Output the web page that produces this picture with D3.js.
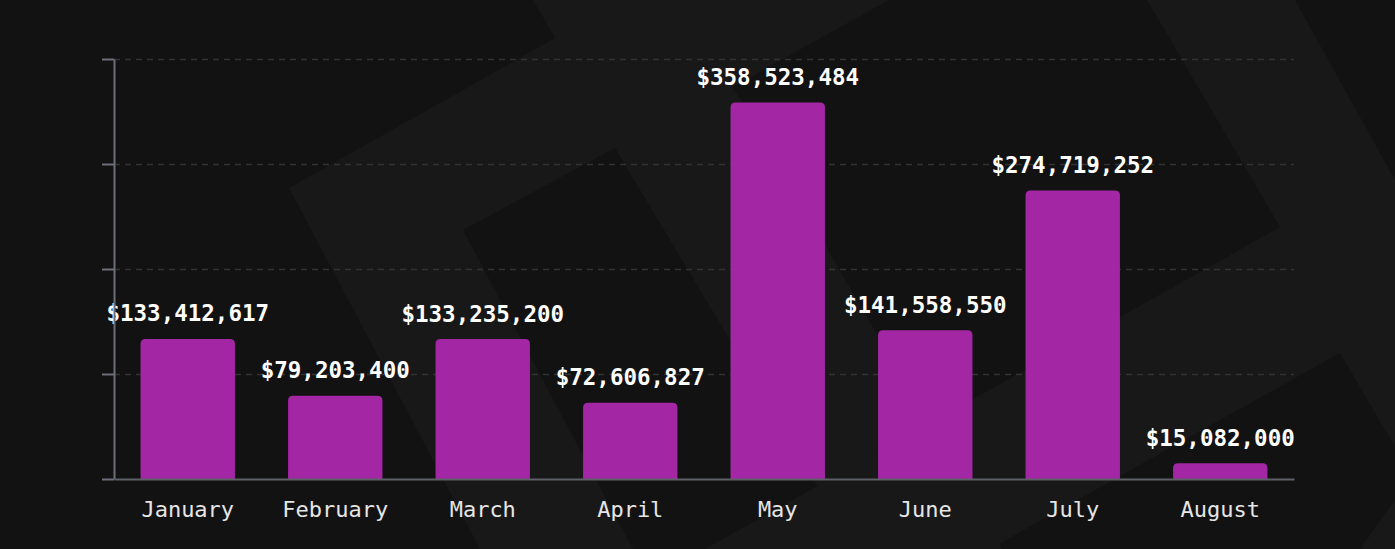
<!DOCTYPE html>
<html>
<head>
<meta charset="utf-8">
<script src="https://cdn.jsdelivr.net/npm/d3@7"></script>
<style>
  html, body { margin: 0; padding: 0; background: #121212; }
  svg { display: block; }
</style>
</head>
<body>
<svg id="chart" width="1395" height="549"></svg>
<script>
const months = ["January", "February", "March", "April", "May", "June", "July", "August"];
const revenue = [133412617, 79203400, 133235200, 72606827, 358523484, 141558550, 274719252, 15082000];
const yTicks = [0, 100000000, 200000000, 300000000, 400000000];

const W = 1395, H = 549;
const margin = { left: 114, right: 101, top: 59, bottom: 70 };
const svg = d3.select("#chart");

// background
svg.append("rect").attr("width", W).attr("height", H).attr("fill", "#121212");
const bgShapes = [
  [[533,0],[889,0],[733,87],[1002,549],[855,549],[615,148],[463,230],[633,549],[480,549],[289,188],[555,38]],
  [[1147,0],[1295,0],[1395,180],[1395,447],[1340,353],[990,549],[705,549],[1120,317],[1280,227]],
  [[1395,500],[1395,549],[1360,549]]
];
svg.append("g").selectAll("polygon").data(bgShapes).join("polygon")
  .attr("points", d => d.map(p => p.join(",")).join(" "))
  .attr("fill", "#181818");

const x = d3.scaleBand().domain(months).range([margin.left, W - margin.right])
  .paddingInner(0.36).paddingOuter(0.18);
const y = d3.scaleLinear().domain([0, 400000000]).range([H - margin.bottom, margin.top]);

// grid
const grid = svg.append("g").attr("transform", `translate(${margin.left},0)`)
  .call(d3.axisLeft(y).tickValues(yTicks.slice(1)).tickSize(-(W - margin.right - margin.left)).tickFormat(""));
grid.select(".domain").remove();
grid.selectAll("line").attr("stroke", "#333").attr("stroke-width", 1.5).attr("stroke-dasharray", "6,5");

// bars with rounded top corners
const r = 5;
function barPath(d, i) {
  const x0 = x(months[i]), w = x.bandwidth();
  const y0 = y(d), y1 = y(0);
  const rr = Math.min(r, (y1 - y0));
  return `M${x0},${y1}V${y0 + rr}Q${x0},${y0} ${x0 + rr},${y0}H${x0 + w - rr}Q${x0 + w},${y0} ${x0 + w},${y0 + rr}V${y1}Z`;
}
svg.append("g").selectAll("path").data(revenue).join("path")
  .attr("d", barPath)
  .attr("fill", "#a326a5");

// value labels
const fmt = d3.format("$,");
svg.append("g").selectAll("text").data(revenue).join("text")
  .attr("x", (d, i) => x(months[i]) + x.bandwidth() / 2)
  .attr("y", d => y(d) - 17.5)
  .attr("text-anchor", "middle")
  .attr("font-family", "'DejaVu Sans Mono', monospace")
  .attr("font-weight", "bold")
  .attr("font-size", "22.5px")
  .attr("fill", "#ffffff")
  .text(d => fmt(d));

// y axis
const yAxis = svg.append("g").attr("transform", `translate(${margin.left},0)`)
  .call(d3.axisLeft(y).tickValues(yTicks).tickSize(12).tickSizeOuter(0).tickFormat(""));
yAxis.selectAll("path, line").attr("stroke", "#6c6e78").attr("stroke-width", 2);

// x axis
const xAxis = svg.append("g").attr("transform", `translate(0,${y(0)})`)
  .call(d3.axisBottom(x).tickSize(0).tickSizeOuter(0));
xAxis.select(".domain").attr("stroke", "#5e6068").attr("stroke-width", 2);
xAxis.selectAll("text")
  .attr("dy", null)
  .attr("y", 38)
  .attr("font-family", "'DejaVu Sans Mono', monospace")
  .attr("font-size", "22px")
  .attr("fill", "#e6e6e6");
</script>
</body>
</html>
